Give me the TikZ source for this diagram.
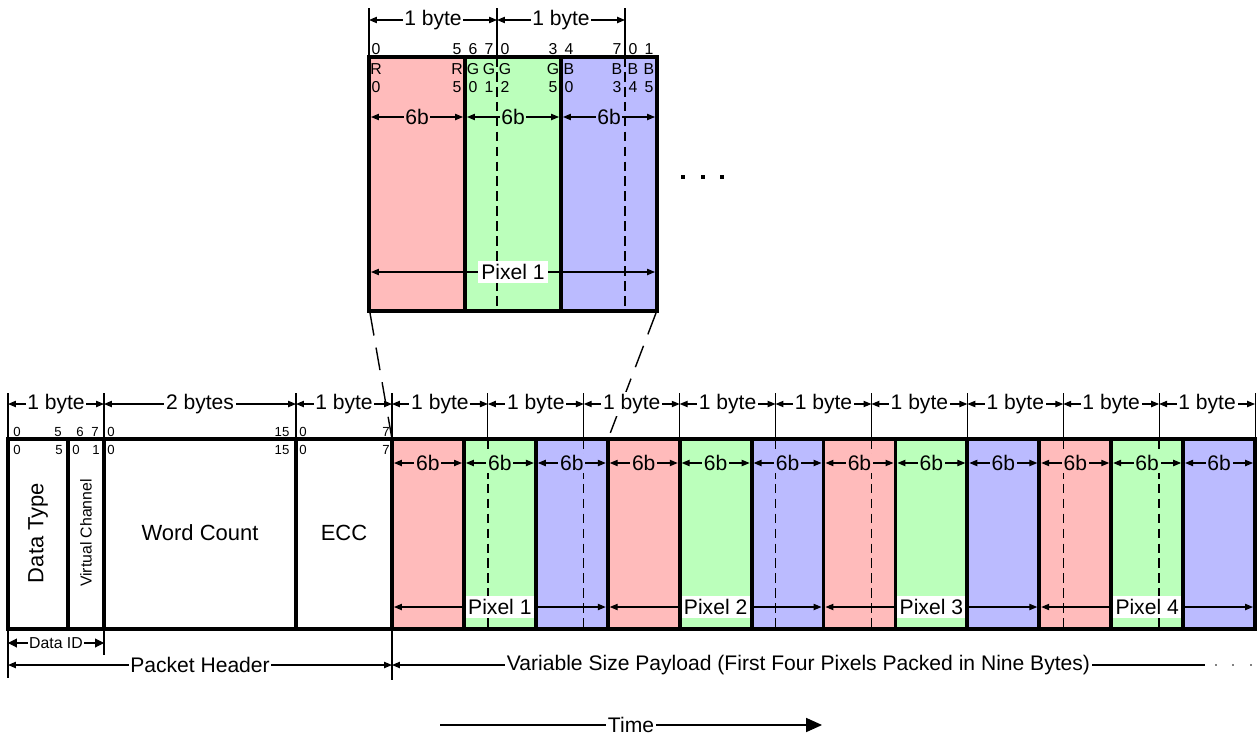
\documentclass[tikz,border=0pt]{standalone}
\usepackage{fontspec}
\setmainfont{Liberation Sans}
\usetikzlibrary{arrows.meta}
\definecolor{pixred}{RGB}{255,187,187}
\definecolor{pixgreen}{RGB}{187,255,187}
\definecolor{pixblue}{RGB}{187,187,255}
\tikzset{
  dimline/.style={line width=0.6pt,{Triangle[length=4.5pt,width=3.6pt]}-{Triangle[length=4.5pt,width=3.6pt]}},
  dimtext/.style={fill=white,inner sep=1pt,font=\fontsize{12}{14}\selectfont},
  tickline/.style={line width=0.6pt},
  frame/.style={line width=2.2pt},
  bytesplit/.style={line width=0.8pt,dash pattern=on 5.5pt off 3pt},
  zoomline/.style={line width=0.8pt,dash pattern=on 13pt off 7pt},
  sixb/.style={inner sep=1pt,font=\fontsize{12}{14}\selectfont},
  bitnum/.style={inner sep=0pt,font=\fontsize{7.5}{8}\selectfont},
  bitbig/.style={inner sep=0pt,font=\fontsize{9}{10}\selectfont},
  fieldname/.style={font=\fontsize{12.5}{14}\selectfont},
}
\begin{document}
\begin{tikzpicture}[x=0.02cm,y=-0.02cm]
\useasboundingbox (0,0) rectangle (1257,737);

% ---- magnified first pixel
\foreach \c [count=\j from 0] in {pixred,pixgreen,pixblue} {
  \fill [\c] ({369+96*\j},57) rectangle ({465+96*\j},311);
}
\foreach \x/\t in {376/0,457/5,473/6,489/7,505/0,553/3,569/4,617/7,633/0,649/1}
  \node [bitbig] at (\x,49) {\t};
\foreach \x/\a/\b in {376/R/0,457/R/5,473/G/0,489/G/1,505/G/2,553/G/5,569/B/0,617/B/3,633/B/4,649/B/5} {
  \node [bitbig] at (\x,69) {\a};
  \node [bitbig] at (\x,87) {\b};
}
\foreach \x in {497,625}
  \draw [bytesplit] (\x,57) -- (\x,311);
\foreach \c [count=\j from 0] in {pixred,pixgreen,pixblue}
  \draw [dimline] ({371+96*\j},117) -- node[sixb,fill=\c] {6b} ({463+96*\j},117);
\draw [dimline] (371,272) -- node[dimtext,inner sep=2pt] {Pixel 1} (655,272);
\draw [frame] (369,57) rectangle (657,311);
\foreach \x in {465,561}
  \draw [frame] (\x,57) -- (\x,311);
\foreach \x in {369,497,625}
  \draw [tickline] (\x,8) -- (\x,57);
\draw [dimline] (369,20) -- node[dimtext] {1 byte} (497,20);
\draw [dimline] (497,20) -- node[dimtext] {1 byte} (625,20);
\foreach \x in {683,703,722}
  \fill (\x-2,175) rectangle (\x+2,179);

% ---- zoom lines
\draw [zoomline] (370,313) -- (392,439);
\draw [zoomline] (656,313) -- (608,439);

% ---- packet, payload blocks
\foreach \p in {0,...,3} {
  \foreach \c [count=\j from 0] in {pixred,pixgreen,pixblue} {
    \pgfmathsetmacro\xa{392+71.92*(3*\p+\j)}
    \pgfmathsetmacro\xb{\xa+71.92}
    \fill [\c] (\xa,439) rectangle (\xb,629);
  }
}
\foreach \k in {1,2,4,5,7,8}
  \draw [bytesplit] ({392+95.89*\k},439) -- ({392+95.89*\k},629);
\foreach \p in {0,...,3} {
  \foreach \c [count=\j from 0] in {pixred,pixgreen,pixblue} {
    \pgfmathsetmacro\xa{392+71.92*(3*\p+\j)}
    \pgfmathsetmacro\xb{\xa+71.92}
    \draw [dimline] ({\xa+2},463) -- node[sixb,fill=\c] {6b} ({\xb-2},463);
  }
  \pgfmathsetmacro\pa{392+215.75*\p}
  \pgfmathsetmacro\pb{\pa+215.75}
  \pgfmathtruncatemacro\n{\p+1}
  \draw [dimline] ({\pa+2},607) -- node[dimtext,inner sep=2pt] {Pixel \n} ({\pb-2},607);
}

% ---- packet header
\node [fieldname,rotate=90] (dtype) at (38,533) {Data Type};
\node [rotate=90,font=\fontsize{9}{10}\selectfont] (vchan) at (86,533) {Virtual Channel};
\node [fieldname] (wcount) at (200,533) {Word Count};
\node [fieldname] (ecc) at (344,533) {ECC};
\foreach \x/\t in {17/0,58/5,80/6,95/7,111/0,282/15,303/0,386/7}
  \node [bitnum] at (\x,432) {\t};
\foreach \x/\t in {17/0,59/5,76/0,96/1,111/0,282/15,303/0,386/7}
  \node [bitnum] at (\x,450) {\t};

% ---- frame
\draw [frame] (8,439) rectangle (1255,629);
\foreach \x in {68,104,296,392}
  \draw [frame] (\x,439) -- (\x,629);
\foreach \i in {1,...,11}
  \draw [frame] ({392+71.92*\i},439) -- ({392+71.92*\i},629);

% ---- byte sizes above
\foreach \x in {8,104,296}
  \draw [tickline] (\x,393) -- (\x,439);
\foreach \k in {0,...,9}
  \draw [tickline] ({392+95.89*\k},393) -- ({392+95.89*\k},439);
\draw [dimline] (8,404) -- node[dimtext] {1 byte} (104,404);
\draw [dimline] (104,404) -- node[dimtext] {2 bytes} (296,404);
\draw [dimline] (296,404) -- node[dimtext] {1 byte} (392,404);
\foreach \k in {0,...,8}
  \draw [dimline] ({392+95.89*\k},404) -- node[dimtext] {1 byte} ({392+95.89*(\k+1)},404);

% ---- sizes below
\draw [tickline] (8,629) -- (8,678);
\draw [tickline] (104,629) -- (104,655);
\draw [tickline] (392,629) -- (392,680);
\draw [dimline,{Triangle[length=5pt,width=5pt]}-{Triangle[length=5pt,width=5pt]}] (8,643) -- node[dimtext,font=\fontsize{9}{10}\selectfont,inner sep=0.5pt] {Data ID} (104,643);
\draw [dimline] (8,665) -- node[dimtext] {Packet Header} (392,665);
\draw [line width=0.6pt,{Triangle[length=4.5pt,width=3.6pt]}-] (392,665) -- node[dimtext] {Variable Size Payload (First Four Pixels Packed in Nine Bytes)} (1205,665);
\foreach \x in {1216,1233,1251}
  \fill (\x,665) circle[radius=0.45pt];

% ---- time
\draw [line width=0.6pt,-{Triangle[length=9pt,width=8pt]}] (440,725) -- node[dimtext] {Time} (822,725);
\end{tikzpicture}
\end{document}
